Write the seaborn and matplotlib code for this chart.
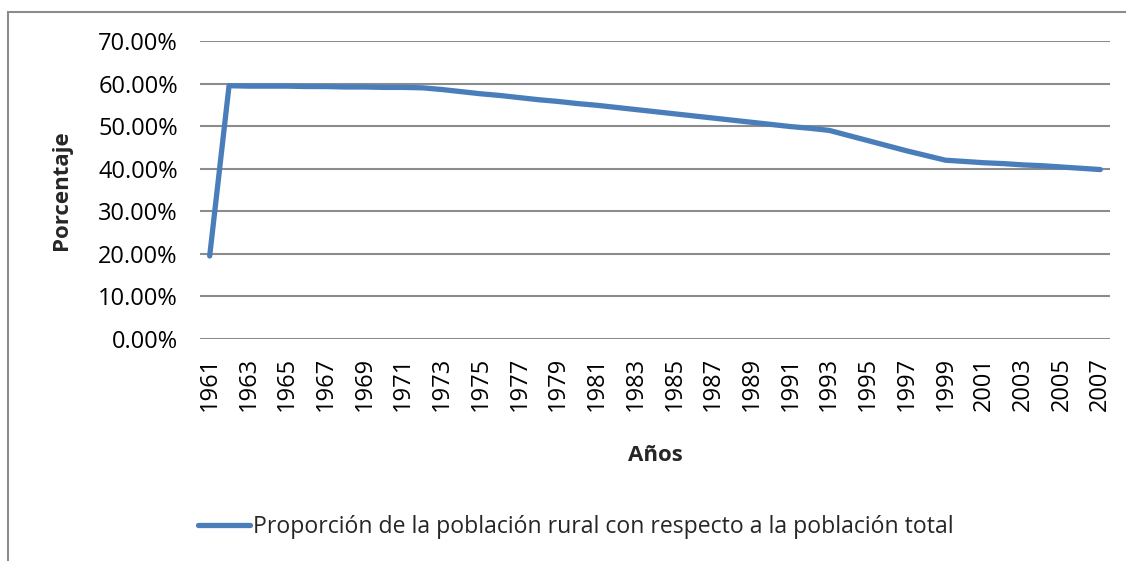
import matplotlib
matplotlib.use("Agg")
import matplotlib.pyplot as plt
import seaborn as sns
import pandas as pd
from matplotlib.patches import Rectangle
from matplotlib.ticker import PercentFormatter

# --- datos ---
anios = list(range(1961, 2008))
proporcion_rural = [
    19.5, 59.5, 59.4, 59.4, 59.4, 59.3, 59.3, 59.2, 59.2, 59.1,
    59.1, 59.0, 58.6, 58.1, 57.6, 57.2, 56.7, 56.2, 55.8, 55.3,
    54.9, 54.4, 53.9, 53.4, 52.9, 52.4, 51.9, 51.4, 50.9, 50.4,
    49.9, 49.5, 49.0, 47.8, 46.6, 45.4, 44.2, 43.1, 42.0, 41.7,
    41.4, 41.2, 40.9, 40.7, 40.4, 40.1, 39.8,
]
serie = "Proporción de la población rural con respecto a la población total"
y_ticks = [0, 10, 20, 30, 40, 50, 60, 70]

df = pd.DataFrame({"Años": anios, "Porcentaje": [v / 100 for v in proporcion_rural]})

sns.set_theme(style="white")
plt.rcParams["font.family"] = ["Open Sans", "DejaVu Sans"]

fig = plt.figure(figsize=(11.26, 5.61), dpi=100)
ax = fig.add_axes([200 / 1126, 1 - 339 / 561, 910 / 1126, 298 / 561])

# marco exterior del grafico
fig.patches.append(Rectangle((8 / 1126, -0.1), 1.2, 1 - 12 / 561 + 0.1,
                             transform=fig.transFigure, fill=False,
                             edgecolor="#8c8c8c", linewidth=1.5))

sns.lineplot(data=df, x="Años", y="Porcentaje", ax=ax, color="#4a7ebb",
             linewidth=3.8, label=serie, legend=False)

ax.set_xlim(1960.5, 2007.5)
ax.set_ylim(0, 0.7)
ax.set_yticks([t / 100 for t in y_ticks])
ax.yaxis.set_major_formatter(PercentFormatter(1.0, decimals=2))
ax.set_xticks(anios[::2])
ax.set_xticklabels([str(a) for a in anios[::2]], rotation=90)
ax.tick_params(axis="both", length=0, labelsize=17, colors="black")
ax.tick_params(axis="y", pad=16)
ax.tick_params(axis="x", pad=13)

ax.grid(axis="y", color="#8c8c8c", linewidth=1.5)
ax.set_axisbelow(True)
for s in ax.spines.values():
    s.set_visible(False)

ax.set_xlabel("Años", fontsize=16, fontweight="bold")
ax.set_ylabel("Porcentaje", fontsize=16, fontweight="bold")
ax.xaxis.set_label_coords(0.5, -0.356)
ax.yaxis.set_label_coords(-0.1407, 0.5)

handles, labels = ax.get_legend_handles_labels()
fig.legend(handles, labels, loc="center left", bbox_to_anchor=(177 / 1126, 1 - 527 / 561),
           frameon=False, fontsize=16.6, handlelength=2.25, handletextpad=0.13)

fig.savefig("out.png", dpi=100)
